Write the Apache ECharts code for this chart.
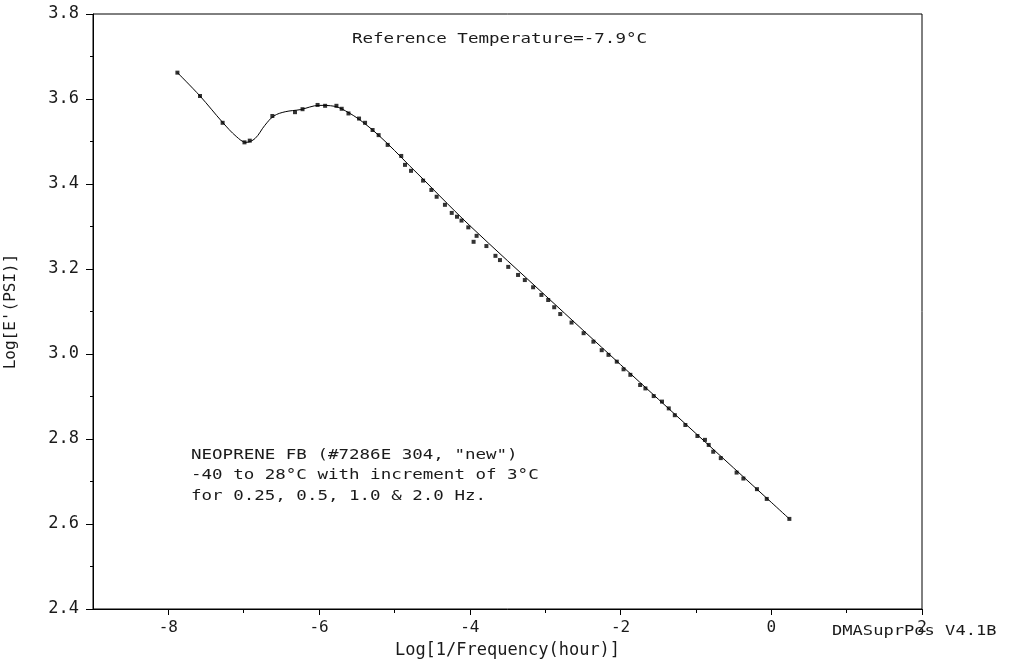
<!DOCTYPE html>
<html>
<head>
<meta charset="utf-8">
<script src="https://cdn.jsdelivr.net/npm/echarts@6/dist/echarts.min.js"></script>
<style>
  html, body { margin: 0; padding: 0; background: #fff; }
  #chart { width: 1014px; height: 663px; }
</style>
</head>
<body>
<div id="chart"></div>
<script>
// measured points, log(1/freq) vs log E'
var ptX = [-7.88, -7.58, -7.28, -6.99, -6.92, -6.62, -6.32, -6.22, -6.02, -5.92, -5.77, -5.70,
    -5.61, -5.47, -5.39, -5.29, -5.21, -5.09, -4.91, -4.86, -4.78, -4.62, -4.51, -4.44,
    -4.33, -4.24, -4.17, -4.11, -4.02, -3.95, -3.91, -3.78, -3.66, -3.60, -3.49, -3.36,
    -3.27, -3.16, -3.05, -2.96, -2.88, -2.80, -2.65, -2.49, -2.36, -2.25, -2.16, -2.05,
    -1.96, -1.87, -1.74, -1.67, -1.56, -1.45, -1.36, -1.28, -1.14, -0.98, -0.88, -0.83,
    -0.77, -0.67, -0.46, -0.37, -0.19, -0.06, 0.24];
var ptY = [3.662, 3.607, 3.544, 3.498, 3.502, 3.560, 3.569, 3.576, 3.586, 3.584, 3.584, 3.577,
    3.566, 3.554, 3.544, 3.527, 3.515, 3.492, 3.466, 3.445, 3.431, 3.408, 3.386, 3.370,
    3.351, 3.332, 3.323, 3.314, 3.298, 3.264, 3.278, 3.254, 3.231, 3.221, 3.205, 3.186,
    3.174, 3.157, 3.139, 3.127, 3.110, 3.094, 3.074, 3.049, 3.029, 3.009, 2.998, 2.982,
    2.964, 2.951, 2.927, 2.919, 2.901, 2.888, 2.872, 2.856, 2.833, 2.807, 2.798, 2.786,
    2.770, 2.755, 2.721, 2.707, 2.682, 2.659, 2.612];

// master curve drawn through the points
var fitX = [-7.88, -7.58, -7.28, -7.10, -6.97, -6.85, -6.72, -6.60, -6.45, -6.25, -6.00, -5.80,
    -5.60, -5.40, -5.20, -5.00, -4.80, -4.60, -4.40, -4.00, -3.00, -2.00, -1.00, 0.00, 0.24];
var fitY = [3.662, 3.607, 3.545, 3.512, 3.498, 3.507, 3.538, 3.560, 3.570, 3.575, 3.585, 3.583,
    3.567, 3.543, 3.513, 3.479, 3.443, 3.408, 3.372, 3.302, 3.138, 2.975, 2.813, 2.651, 2.612];

var xMajor = [-8, -6, -4, -2, 0, 2];
var xMinor = [-7, -5, -3, -1, 1];

var noteLines = [
    'NEOPRENE FB (#7286E 304, "new")',
    '-40 to 28\u00B0C with increment of 3\u00B0C',
    'for 0.25, 0.5, 1.0 & 2.0 Hz.'
];

var font = 'DejaVu Sans Mono';
var ink = '#1a1a1a';

var dom = document.getElementById('chart');
var myChart = echarts.init(dom, null, { renderer: 'canvas' });

var points = ptX.map(function (x, i) { return [x, ptY[i]]; });
var curve = fitX.map(function (x, i) { return [x, fitY[i]]; });

var graphics = [
    {
        type: 'text', left: 352, top: 32,
        scaleX: 1.25,
        style: { text: 'Reference Temperature=-7.9\u00B0C', font: '14px ' + font, fill: ink }
    },
    {
        type: 'text', left: 832, top: 624,
        scaleX: 1.22,
        style: { text: 'DMASuprPos V4.1B', font: '14px ' + font, fill: ink }
    }
];
noteLines.forEach(function (t, i) {
    graphics.push({
        type: 'text', left: 191, top: 448 + i * 20.5,
        scaleX: 1.25,
        style: { text: t, font: '14px ' + font, fill: ink }
    });
});

option = {
    animation: false,
    backgroundColor: '#fff',
    grid: {
        left: 93, top: 14, right: 92, bottom: 54,
        outerBoundsMode: 'none',
        show: true, borderColor: '#000', borderWidth: 1
    },
    xAxis: [
        {
            type: 'value',
            min: -9, max: 2,
            name: 'Log[1/Frequency(hour)]',
            nameLocation: 'middle',
            nameGap: 33,
            nameTextStyle: { fontFamily: font, fontSize: 17, color: ink },
            axisLine: { show: true, onZero: false, lineStyle: { color: '#000', width: 1 } },
            axisTick: { show: true, length: 6, customValues: xMajor, lineStyle: { color: '#000' } },
            axisLabel: {
                customValues: xMajor,
                margin: 11,
                fontFamily: font, fontSize: 16, color: ink,
                showMinLabel: true, showMaxLabel: true
            },
            splitLine: { show: false }
        },
        {
            type: 'value',
            min: -9, max: 2,
            position: 'bottom',
            axisLine: { show: false, onZero: false },
            axisTick: { show: true, length: 4, customValues: xMinor, lineStyle: { color: '#000' } },
            axisLabel: { show: false },
            splitLine: { show: false }
        }
    ],
    yAxis: {
        type: 'value',
        min: 2.4, max: 3.8, interval: 0.2,
        name: "Log[E'(PSI)]",
        nameLocation: 'middle',
        nameGap: 74,
        nameTextStyle: { fontFamily: font, fontSize: 16, color: ink },
        axisLine: { show: true, onZero: false, lineStyle: { color: '#000', width: 1 } },
        axisTick: { show: true, length: 7, lineStyle: { color: '#000' } },
        minorTick: { show: true, splitNumber: 2, length: 3, lineStyle: { color: '#000' } },
        axisLabel: {
            margin: 14,
            fontFamily: font, fontSize: 17, color: ink,
            formatter: function (v) { return v.toFixed(1); }
        },
        splitLine: { show: false }
    },
    graphic: graphics,
    series: [
        {
            name: 'fit',
            type: 'line',
            data: curve,
            smooth: 0.35,
            showSymbol: false,
            lineStyle: { color: '#000', width: 1 },
            z: 2
        },
        {
            name: 'data',
            type: 'scatter',
            data: points,
            symbol: 'rect',
            symbolSize: 4,
            itemStyle: { color: '#000' },
            z: 3
        }
    ]
};

if (option && typeof option === "object") {
    myChart.setOption(option, true);
}
</script>
</body>
</html>
